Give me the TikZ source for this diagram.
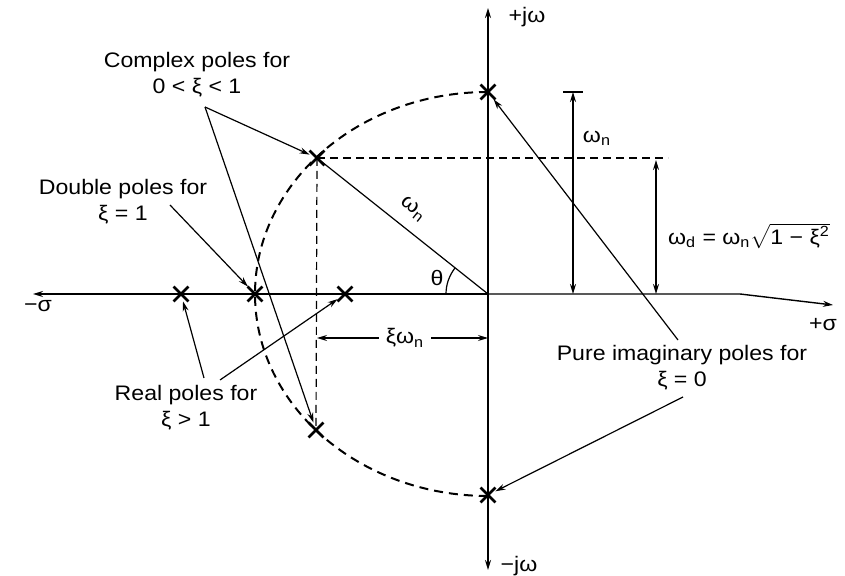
\documentclass[tikz,border=0pt]{standalone}
\usepackage{fontspec}
\setmainfont{Liberation Sans}[FakeStretch=1.1]
\usetikzlibrary{arrows.meta,shapes.misc}

\begin{document}
\begin{tikzpicture}[>={Stealth[length=5pt,width=3pt]},x=0.5pt,y=-0.5pt,font=\fontsize{10.5}{13}\selectfont]
\tikzstyle{pole}=[draw,cross out,line width=1.4pt,minimum size=6pt,inner sep=0pt]
\tikzstyle{lbl}=[align=center,inner sep=1pt]
\tikzstyle{pointer}=[->,line width=0.6pt]
\tikzstyle{dimline}=[<->,line width=0.9pt]
\tikzstyle{guide}=[line width=0.6pt,dash pattern=on 4pt off 2.5pt]
\tikzstyle{locus}=[line width=1pt,dash pattern=on 4.5pt off 3pt]

\useasboundingbox[fill=white] (0,0) rectangle (845,576);

% axes
\coordinate (O) at (488,294);
\coordinate (xl) at (33,294);
\coordinate (sbend) at (740,294);
\coordinate (xr) at (833,305);
\coordinate (yt) at (488,8);
\coordinate (yb) at (488,570);

% poles
\node[pole] (pt) at (488,92) {};
\node[pole] (pb) at (488,495) {};
\node[pole] (pu) at (317,158) {};
\node[pole] (pl) at (316,430) {};
\node[pole] (pd) at (255,294) {};
\node[pole] (pr1) at (181,294) {};
\node[pole] (pr2) at (345,294) {};

\draw[->,line width=0.7pt] (O) -- (xl);
\draw[->,line width=0.7pt] (O) -- (sbend) -- (xr);
\draw[line width=0.7pt] (pt.center) -- (pb.center);
\draw[->,line width=1.3pt] (pt.center) -- (yt);
\draw[->,line width=1.3pt] (pb.center) -- (yb);

\node (sneg) at (38,306) {−σ};
\node (spos) at (823,325) {+σ};
\node (jpos) at (527,17) {+jω};
\node (jneg) at (519,566) {−jω};

% locus of the poles
\draw[locus] (pt.center) arc[start angle=-90,end angle=-270,x radius=233,y radius=202];
\draw[guide] (pu.center) -- (668,158) coordinate (gend);
\draw[guide] (pu.center) -- (pl.center);
\draw[line width=0.6pt] (O) -- (pu.center);
\node[rotate=-38.5] (hyp) at (413,209) {ω\textsubscript{n}};
\draw[line width=0.6pt] (O) ++(-42,0) arc[start angle=180,end angle=218.5,radius=42];
\node (th) at (437,278) {θ};

% dimensions
\coordinate (wntop) at (573,92);
\coordinate (wnbot) at (573,294);
\draw[dimline] (wntop) -- (wnbot);
\draw[line width=0.8pt] (563,92) -- (583,92);
\node (wn) at (597,138) {ω\textsubscript{n}};
\coordinate (wdtop) at (656,160);
\coordinate (wdbot) at (656,294);
\draw[dimline] (wdtop) -- (wdbot);
\node[anchor=west] (wd) at (661,236) {ω\textsubscript{d} = ω\textsubscript{n}$\sqrt{\mbox{1 − ξ\textsuperscript{2}}}$};
\node (xw) at (405,338) {ξω\textsubscript{n}};
\draw[pointer] (xw.west) -- (pu |- xw);
\draw[pointer] (xw.east) -- (O |- xw);

% labels
\node[lbl] (cpx) at (197,75) {Complex poles for\\0 < ξ < 1};
\node[lbl] (dbl) at (123,202) {Double poles for\\ξ = 1};
\node[lbl] (real) at (186,408) {Real poles for\\ξ > 1};
\node[lbl] (pure) at (682,368) {Pure imaginary poles for\\ξ = 0};

\coordinate (cpxa) at (205,107);
\coordinate (dbla) at (170,205);
\coordinate (reala) at (204,378);
\coordinate (realb) at (220,380);
\coordinate (purea) at (678,340);
\coordinate (pureb) at (683,397);

\draw[pointer] (cpxa) -- (pu); \draw[pointer] (cpxa) -- (pl);
\draw[pointer] (dbla) -- (pd);
\draw[pointer] (reala) -- (pr1); \draw[pointer] (realb) -- (pr2);
\draw[pointer] (purea) -- (pt); \draw[pointer] (pureb) -- (pb);
\end{tikzpicture}
\end{document}
